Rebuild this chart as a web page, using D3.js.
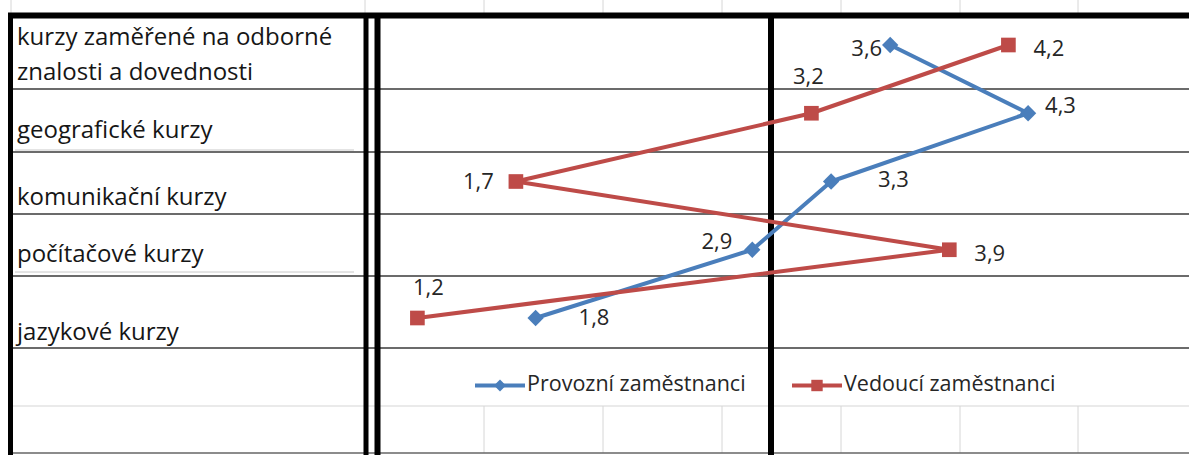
<!DOCTYPE html>
<html>
<head>
<meta charset="utf-8">
<script src="https://cdn.jsdelivr.net/npm/d3@7"></script>
<style>
  html, body { margin: 0; padding: 0; background: #fff; }
  svg { display: block; font-family: 'Open Sans', Lato, sans-serif; }
</style>
</head>
<body>
<svg id="chart"></svg>
<script>
// kategorie shora dolu
const categories = [
  'kurzy zaměřené na odborné znalosti a dovednosti',
  'geografické kurzy',
  'komunikační kurzy',
  'počítačové kurzy',
  'jazykové kurzy',
]
// texty v levem sloupci tabulky (zalomene jako v bunkach)
const rowLabels = [
  ['kurzy zaměřené na odborné', 'znalosti a dovednosti'],
  ['geografické kurzy'],
  ['komunikační kurzy'],
  ['počítačové kurzy'],
  ['jazykové kurzy'],
]
const seriesNames = ['Provozní zaměstnanci', 'Vedoucí zaměstnanci']
const provozni = [3.6, 4.3, 3.3, 2.9, 1.8]
const vedouci = [4.2, 3.2, 1.7, 3.9, 1.2]

// rucne posunute popisky hodnot (jako v Excelu) [anchor, dx, dy]
const labelPlace = [
  [['end', -8, 5], ['start', 17, -6], ['start', 47, 0], ['end', -20, -7], ['start', 43, 1]],
  [['start', 25, 5], ['middle', -3, -35], ['end', -22, 2], ['start', 25, 5], ['middle', 11, -29]],
]

const W = 1189
const H = 455
const blue = '#4a7ebb'
const red = '#be4b48'

const svg = d3.select('#chart').attr('width', W).attr('height', H)

drawSheet()
drawChart()

function drawSheet() {
  const g = svg.append('g').attr('id', 'sheet')

  // svetle mrizky listu (viditelne jen mimo graf)
  const colX = [11, 365, 484, 603, 722, 841, 960, 1078]
  colX.forEach((x) => {
    g.append('line').attr('x1', x).attr('x2', x).attr('y1', 0).attr('y2', 13)
      .attr('stroke', '#d6d6d6').attr('stroke-width', 1)
  })
  colX.slice(2).forEach((x) => {
    g.append('line').attr('x1', x).attr('x2', x).attr('y1', 406).attr('y2', 453)
      .attr('stroke', '#d6d6d6').attr('stroke-width', 1)
  })
  g.append('line').attr('x1', 12).attr('x2', W).attr('y1', 406).attr('y2', 406)
    .attr('stroke', '#d6d6d6').attr('stroke-width', 1.2)
  g.append('line').attr('x1', 12).attr('x2', W).attr('y1', 453).attr('y2', 453)
    .attr('stroke', '#666').attr('stroke-width', 1.5)

  // tenke cary pod texty
  ;[150, 272].forEach((y) => {
    g.append('line').attr('x1', 15).attr('x2', 354).attr('y1', y).attr('y2', y)
      .attr('stroke', '#c8c8c8').attr('stroke-width', 1)
  })

  // hranice radku
  ;[89, 152, 214, 276, 348].forEach((y) => {
    g.append('line').attr('x1', 8).attr('x2', W).attr('y1', y).attr('y2', y)
      .attr('stroke', '#3a3a3a').attr('stroke-width', 1.6)
  })

  // silne cerne ohraniceni
  g.append('line').attr('x1', 8).attr('x2', W).attr('y1', 15.5).attr('y2', 15.5)
    .attr('stroke', '#000').attr('stroke-width', 6)
  ;[[10.5, 5], [366, 5], [377.5, 6], [771, 6]].forEach(([x, sw]) => {
    g.append('line').attr('x1', x).attr('x2', x).attr('y1', 13).attr('y2', H)
      .attr('stroke', '#000').attr('stroke-width', sw)
  })

  // texty kategorii
  const lineY = [[45, 80], [138], [205], [262], [340]]
  rowLabels.forEach((lines, i) => {
    lines.forEach((t, j) => {
      g.append('text')
        .attr('x', 17)
        .attr('y', lineY[i][j])
        .attr('fill', '#161616')
        .style('font-size', '24px')
        .text(t)
    })
  })
}

function drawChart() {
  const x = d3.scaleLinear().domain([0, 5]).range([181, 1166])
  const y = d3.scalePoint().domain(categories).range([45, 318])

  const series = [
    { name: seriesNames[0], values: provozni, color: blue, symbol: d3.symbolDiamond2 || d3.symbolDiamond, size: 170 },
    { name: seriesNames[1], values: vedouci, color: red, symbol: d3.symbolSquare, size: 215 },
  ]

  const line = d3.line()
    .x((d) => x(d.v))
    .y((d) => y(d.c))

  const g = svg.append('g').attr('id', 'plot')

  series.forEach((s, si) => {
    const pts = s.values.map((v, i) => ({ v, c: categories[i], i }))

    g.append('path')
      .datum(pts)
      .attr('d', line)
      .attr('fill', 'none')
      .attr('stroke', s.color)
      .attr('stroke-width', 4)
      .attr('stroke-linejoin', 'round')

    g.selectAll('.m' + si)
      .data(pts)
      .enter()
      .append('path')
      .attr('class', 'm' + si)
      .attr('d', d3.symbol(s.symbol, s.size))
      .attr('transform', (d) => `translate(${x(d.v)},${y(d.c)})`)
      .attr('fill', s.color)

    g.selectAll('.l' + si)
      .data(pts)
      .enter()
      .append('text')
      .attr('class', 'l' + si)
      .attr('x', (d) => x(d.v) + labelPlace[si][d.i][1])
      .attr('y', (d) => y(d.c) + labelPlace[si][d.i][2])
      .attr('text-anchor', (d) => labelPlace[si][d.i][0])
      .attr('dominant-baseline', 'middle')
      .attr('fill', '#262626')
      .style('font-size', '22px')
      .text((d) => d3.format('.1f')(d.v).replace('.', ','))
  })

  // legenda
  const legendX = [475, 792]
  const legendY = 385.5
  const lg = svg.append('g').attr('id', 'legend')
  series.forEach((s, i) => {
    const lx = legendX[i]
    lg.append('line')
      .attr('x1', lx).attr('x2', lx + 50)
      .attr('y1', legendY).attr('y2', legendY)
      .attr('stroke', s.color).attr('stroke-width', 4)
    lg.append('path')
      .attr('d', d3.symbol(s.symbol, i === 0 ? 90 : 130))
      .attr('transform', `translate(${lx + 25},${legendY})`)
      .attr('fill', s.color)
    lg.append('text')
      .attr('x', lx + 52)
      .attr('y', legendY)
      .attr('dominant-baseline', 'middle')
      .attr('fill', '#262626')
      .style('font-size', '21.5px')
      .text(s.name)
  })
}
</script>
</body>
</html>
